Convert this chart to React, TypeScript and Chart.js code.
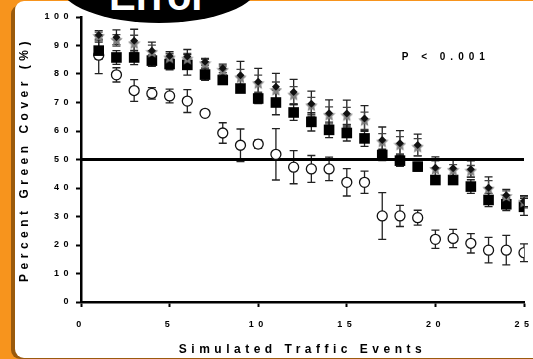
import React, { useEffect, useRef } from "react";
import { Chart, registerables } from "chart.js";

Chart.register(...registerables);

// ---- data ----
const events = [1, 2, 3, 4, 5, 6, 7, 8, 9, 10, 11, 12, 13, 14, 15, 16, 17, 18, 19, 20, 21, 22, 23, 24, 25];

const circleMeans = [86.6, 79.7, 74.2, 73.2, 72.3, 70.5, 66.2, 59.3, 55.0, 55.4, 51.8, 47.3, 46.7, 46.7, 42.0, 42.0, 30.2, 30.2, 29.6, 22.0, 22.3, 20.6, 18.2, 18.2, 17.3];
const circleErrors = [6.5, 2.5, 3.8, 2.0, 2.4, 4.0, 1.0, 3.6, 5.7, 1.5, 9.0, 5.8, 4.7, 4.1, 4.8, 3.9, 8.2, 3.7, 2.6, 3.2, 3.2, 3.4, 4.5, 5.2, 3.1];

const squareMeans = [88.2, 85.8, 85.8, 84.7, 83.5, 83.2, 79.8, 77.9, 74.9, 71.4, 70.0, 66.5, 63.2, 60.4, 59.3, 57.4, 51.6, 49.6, 47.5, 42.8, 42.8, 40.5, 35.8, 34.3, 33.4];
const squareErrors = [3.0, 2.4, 2.5, 2.0, 2.0, 3.6, 2.0, 1.5, 1.2, 1.8, 4.3, 2.8, 3.2, 2.7, 2.8, 2.8, 2.0, 2.0, 1.5, 1.5, 1.5, 2.4, 2.3, 2.2, 3.0];

const diamondMeans = [93.7, 92.9, 91.7, 88.2, 86.3, 86.1, 84.3, 82.0, 79.6, 77.3, 75.5, 73.7, 69.6, 66.2, 66.1, 64.4, 56.8, 55.7, 55.1, 47.1, 46.9, 46.6, 40.1, 37.5, 35.4];
const diamondErrors = [1.5, 2.6, 4.0, 3.0, 1.5, 2.5, 1.2, 1.5, 4.8, 4.7, 4.7, 4.4, 4.4, 4.7, 4.7, 4.5, 4.6, 4.4, 3.8, 3.8, 2.8, 2.9, 3.8, 2.0, 1.9];

const starMeans = [93.2, 91.8, 90.6, 87.6, 85.6, 85.2, 83.6, 81.3, 78.6, 76.6, 74.2, 72.6, 68.8, 65.5, 65.3, 63.6, 56.1, 55.0, 54.3, 46.5, 46.2, 45.9, 39.6, 37.0, 35.0];
const starErrors = [1.5, 2.0, 3.0, 2.5, 1.5, 2.0, 1.5, 1.5, 3.0, 3.0, 3.0, 3.0, 3.0, 3.0, 3.0, 3.0, 3.0, 3.0, 3.0, 3.0, 2.0, 2.0, 3.0, 2.0, 2.0];

const thresholdValue = 50;
const xRange = [0, 25];
const yRange = [0, 100];
const xStep = 5;
const yStep = 10;
const annotationText = "P < 0.001";
const annotationPos = { x: 18.1, y: 86 };
const xTitle = "Simulated Traffic Events";
const yTitle = "Percent Green Cover (%)";
const bannerText = "Error";

const FONT = "'Liberation Sans', Arial, Helvetica, sans-serif";

const toPoints = (ys: number[]) => events.map((x, i) => ({ x, y: ys[i] }));

const errorBarPlugin = {
  id: "errorBars",
  beforeDatasetsDraw(chart: any) {
    const ctx = chart.ctx;
    const xs = chart.scales.x;
    const ys = chart.scales.y;
    const dss = chart.data.datasets;
    for (let i = dss.length - 1; i >= 0; i--) {
      const ds = dss[i];
      if (!ds.errors) continue;
      ctx.save();
      ctx.strokeStyle = ds.errorColor || "#222";
      ctx.lineWidth = 1.3;
      ds.data.forEach((p: any, j: number) => {
        const e = ds.errors[j];
        const x = xs.getPixelForValue(p.x);
        const y1 = ys.getPixelForValue(p.y + e);
        const y2 = ys.getPixelForValue(p.y - e);
        ctx.beginPath();
        ctx.moveTo(x, y1);
        ctx.lineTo(x, y2);
        ctx.moveTo(x - 4, y1);
        ctx.lineTo(x + 4, y1);
        ctx.moveTo(x - 4, y2);
        ctx.lineTo(x + 4, y2);
        ctx.stroke();
      });
      ctx.restore();
    }
  },
};

const spacingPlugin = {
  id: "spacing",
  beforeDraw(chart: any) {
    chart.ctx.letterSpacing = "4.5px";
  },
  afterDraw(chart: any) {
    const ctx = chart.ctx;
    ctx.save();
    ctx.letterSpacing = "5px";
    ctx.font = `bold 10px ${FONT}`;
    ctx.fillStyle = "#000";
    ctx.textAlign = "left";
    ctx.textBaseline = "middle";
    ctx.fillText(
      annotationText,
      chart.scales.x.getPixelForValue(annotationPos.x),
      chart.scales.y.getPixelForValue(annotationPos.y)
    );
    ctx.restore();
    ctx.letterSpacing = "0px";
  },
};

function makeStar(): HTMLCanvasElement {
  const c = document.createElement("canvas");
  c.width = 13;
  c.height = 13;
  const g = c.getContext("2d")!;
  g.fillStyle = "#808080";
  g.beginPath();
  for (let k = 0; k < 10; k++) {
    const r = k % 2 ? 3 : 6.5;
    const a = -Math.PI / 2 + (k * Math.PI) / 5;
    g.lineTo(6.5 + r * Math.cos(a), 6.5 + r * Math.sin(a));
  }
  g.closePath();
  g.fill();
  return c;
}

export default function App() {
  const ref = useRef<HTMLCanvasElement | null>(null);

  useEffect(() => {
    if (!ref.current) return;
    const star = makeStar();
    const chart = new Chart(ref.current, {
      type: "scatter",
      data: {
        datasets: [
          {
            type: "line",
            data: [
              { x: xRange[0], y: thresholdValue },
              { x: xRange[1], y: thresholdValue },
            ],
            borderColor: "#000",
            borderWidth: 3,
            pointRadius: 0,
            order: 5,
          } as any,
          {
            data: toPoints(circleMeans),
            errors: circleErrors,
            errorColor: "#222",
            pointStyle: "circle",
            pointRadius: 5,
            backgroundColor: "#fff",
            borderColor: "#111",
            borderWidth: 1.3,
            order: 4,
          } as any,
          {
            data: toPoints(squareMeans),
            errors: squareErrors,
            errorColor: "#222",
            pointStyle: "rect",
            pointRadius: 7.5,
            backgroundColor: "#000",
            borderColor: "#000",
            borderWidth: 0,
            order: 3,
          } as any,
          {
            data: toPoints(starMeans),
            errors: starErrors,
            errorColor: "#444",
            pointStyle: star,
            pointRadius: 6,
            backgroundColor: "#808080",
            borderColor: "#808080",
            order: 2,
          } as any,
          {
            data: toPoints(diamondMeans),
            errors: diamondErrors,
            errorColor: "#222",
            pointStyle: "rectRot",
            pointRadius: 4,
            backgroundColor: "#111",
            borderColor: "#111",
            borderWidth: 0,
            order: 1,
          } as any,
        ],
      },
      options: {
        animation: false,
        responsive: false,
        devicePixelRatio: 1,
        layout: { padding: { left: 0, top: 17, right: 9, bottom: 0 } },
        plugins: { legend: { display: false }, tooltip: { enabled: false } },
        scales: {
          x: {
            type: "linear",
            min: xRange[0],
            max: xRange[1],
            afterFit: (s: any) => {
              s.height = 57;
              s.paddingLeft = 0;
              s.paddingRight = 0;
            },
            ticks: {
              stepSize: xStep,
              padding: 12,
              color: "#000",
              font: { family: FONT, size: 9, weight: "bold" },
            },
            grid: {
              drawOnChartArea: false,
              drawTicks: true,
              tickLength: 5,
              tickWidth: 2,
              tickColor: "#000",
              color: "#000",
            },
            border: { display: true, color: "#000", width: 2.5 },
            title: {
              display: true,
              text: xTitle,
              color: "#000",
              font: { family: FONT, size: 12, weight: "bold" },
              padding: { top: 0, bottom: 2 },
            },
          },
          y: {
            type: "linear",
            min: yRange[0],
            max: yRange[1],
            afterFit: (s: any) => {
              s.width = 81;
            },
            ticks: {
              stepSize: yStep,
              padding: 3,
              color: "#000",
              font: { family: FONT, size: 9, weight: "bold" },
            },
            grid: {
              drawOnChartArea: false,
              drawTicks: true,
              tickLength: 5,
              tickWidth: 2,
              tickColor: "#000",
              color: "#000",
            },
            border: { display: true, color: "#000", width: 2.5 },
            title: {
              display: true,
              text: yTitle,
              color: "#000",
              font: { family: FONT, size: 12, weight: "bold" },
              padding: { top: 17, bottom: 0 },
            },
          },
        },
      } as any,
      plugins: [errorBarPlugin, spacingPlugin],
    });
    return () => chart.destroy();
  }, []);

  return (
    <div
      style={{
        position: "absolute",
        left: 0,
        top: 0,
        width: 533,
        height: 359,
        overflow: "hidden",
        background: "#F7941D",
      }}
    >
      <div
        style={{
          position: "absolute",
          left: 11,
          top: 5,
          width: 560,
          height: 354,
          background: "#9A5A0C",
          borderRadius: 9,
        }}
      />
      <div
        style={{
          position: "absolute",
          left: 15,
          top: 1,
          width: 560,
          height: 357,
          background: "#fff",
          borderRadius: 9,
        }}
      />
      <svg
        width={533}
        height={359}
        style={{ position: "absolute", left: 0, top: 0 }}
      >
        <ellipse cx={159} cy={-16} rx={100} ry={39} fill="#000" />
        <text
          x={158}
          y={10}
          textAnchor="middle"
          fill="#fff"
          fontFamily={FONT}
          fontWeight="bold"
          fontSize={40}
        >
          {bannerText}
        </text>
      </svg>
      <canvas
        ref={ref}
        width={533}
        height={359}
        style={{ position: "absolute", left: 0, top: 0, width: 533, height: 359 }}
      />
    </div>
  );
}
